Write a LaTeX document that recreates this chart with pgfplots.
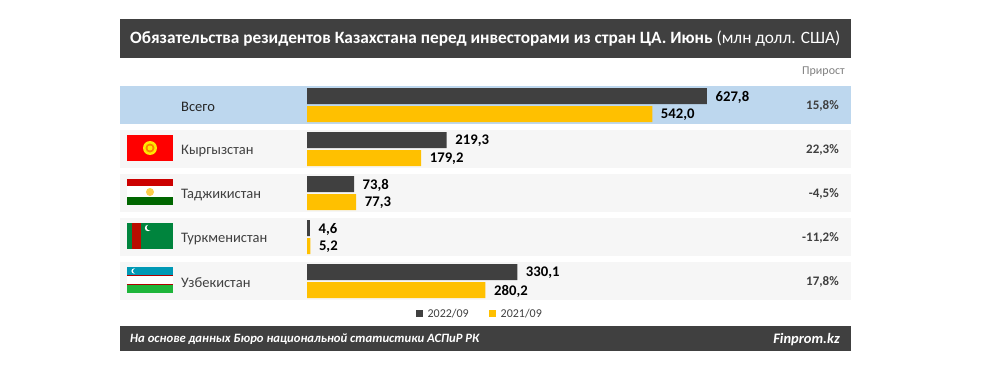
\documentclass[border=0pt]{standalone}
\usepackage{pgfplots}
\pgfplotsset{compat=1.18}
\usepackage{fontspec}
\setmainfont{Carlito}
\definecolor{dk}{HTML}{404040}
\definecolor{yl}{HTML}{FFC000}
\definecolor{rowb}{HTML}{BDD7EE}
\definecolor{rowg}{HTML}{F6F6F6}
\definecolor{txt}{HTML}{404040}
\definecolor{tmg}{HTML}{00843D}
\definecolor{uzb}{HTML}{0099B5}
\definecolor{uzg}{HTML}{1EB53A}
\definecolor{tjr}{HTML}{CC0000}
\definecolor{tjg}{HTML}{006600}
\begin{document}
\begin{tikzpicture}[x=1pt,y=1pt]
\path[use as bounding box] (0,0) rectangle (989,368);
\begin{scope}[x=1pt,y=-1pt,yshift=368pt,every node/.style={inner sep=0pt}]
\fill[dk] (120,19) rectangle (851,58);
\fill[dk] (120,326) rectangle (851,351);
\fill[rowb] (120,86) rectangle (851,124);
\foreach \t in {130,174,218,262} \fill[rowg] (120,\t) rectangle (851,\t+38);
\node[anchor=west,text=white,font=\fontsize{17.3}{20}\selectfont] at (130,38.5) {\textbf{Обязательства резидентов Казахстана перед инвесторами из стран ЦА. Июнь} (млн долл. США)};
\node[anchor=west,text=white,font=\fontsize{12.7}{15}\selectfont\itshape\bfseries] at (130,339) {На основе данных Бюро национальной статистики АСПиР РК};
\node[anchor=east,text=white,font=\fontsize{14.5}{18}\selectfont\itshape\bfseries] at (840,340) {Finprom.kz};
\node[anchor=east,text=gray,font=\fontsize{12}{14}\selectfont] at (845,72) {Прирост};
\node[anchor=west,text=black!85,font=\fontsize{14.5}{16}\selectfont] at (181,106.5) {Всего};
\foreach \y/\n in {151/Кыргызстан,195/Таджикистан,239/Туркменистан,283/Узбекистан}
  \node[anchor=west,text=txt,font=\fontsize{14.5}{16}\selectfont] at (181,\y) {\n};
\foreach \y/\n in {106/{15,8\%},150/{22,3\%},194/{-4,5\%},238/{-11,2\%},282/{17,8\%}}
  \node[anchor=east,text=txt,font=\fontsize{13}{15}\selectfont\bfseries] at (839,\y) {\n};
% flags
\fill[red] (127,135) rectangle (173,161);
\fill[yellow!90!orange] (150,148) circle (7);
\fill[orange] (150,148) circle (4.5);
\fill[yellow!90!orange] (150,148) circle (2.5);
\fill[tjr] (127,179) rectangle (173,186);
\fill[white] (127,186) rectangle (173,197);
\fill[tjg] (127,197) rectangle (173,205);
\fill[yellow!50!orange!70!white] (150,192) circle (4);
\fill[tmg] (127,223) rectangle (173,249);
\fill[red!70!black!90!orange] (132,223) rectangle (141,249);
\fill[white] (148,228) circle (3.2);
\fill[tmg] (149.5,227.5) circle (2.8);
\fill[uzb] (127,267) rectangle (173,275);
\fill[red!70!black] (127,275) rectangle (173,276);
\fill[white] (127,276) rectangle (173,284);
\fill[red!70!black] (127,284) rectangle (173,285);
\fill[uzg] (127,285) rectangle (173,293);
\fill[white] (134,271) circle (2.6);
\fill[uzb] (135.2,271) circle (2.2);
\end{scope}
\begin{axis}[
  at={(307pt,65pt)},anchor=south west,
  width=543pt,height=220pt,scale only axis,
  axis lines=none,clip=false,
  xmin=0,xmax=852.4,ymin=-0.5,ymax=4.5,y dir=reverse,
  ytick=data,xtick=\empty,
  xbar,
  bar width=16pt,
  nodes near coords,
  every node near coord/.append style={font=\fontsize{14.7}{17}\selectfont\bfseries,text=black,inner xsep=8.5pt,yshift=-1pt,/pgf/number format/.cd,assume math mode=true,fixed,fixed zerofill,precision=1,use comma,1000 sep={}},
  point meta=x,
  legend style={at={(0.2,-0.018)},anchor=north west,draw=none,fill=none,inner sep=0pt,outer sep=0pt,legend columns=2,font=\fontsize{12}{15}\selectfont\color{txt},/tikz/every odd column/.append style={column sep=3pt},/tikz/every even column/.append style={column sep=18pt}},
  legend image code/.code={\fill[#1] (0pt,-3.5pt) rectangle (7pt,3.5pt);},
]
\addplot[fill=dk,draw=none,bar shift=9pt] coordinates {(627.8,0) (219.3,1) (73.8,2) (4.6,3) (330.1,4)};
\addplot[fill=yl,draw=none,bar shift=-9pt] coordinates {(542.0,0) (179.2,1) (77.3,2) (5.2,3) (280.2,4)};
\legend{2022/09,2021/09}
\end{axis}
\end{tikzpicture}
\end{document}
